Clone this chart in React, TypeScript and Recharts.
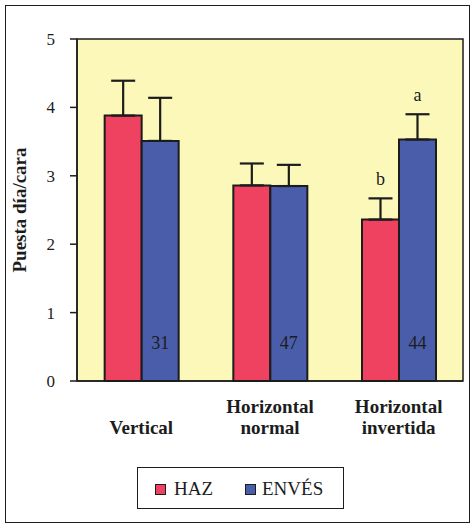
import React from 'react';
import {
  BarChart,
  Bar,
  XAxis,
  YAxis,
  ErrorBar,
  LabelList,
  Legend,
  CartesianGrid,
  ReferenceArea,
} from 'recharts';

const categories = ['Vertical', 'Horizontal normal', 'Horizontal invertida'];
const categoryLines = [['Vertical'], ['Horizontal', 'normal'], ['Horizontal', 'invertida']];
const hazValues = [3.88, 2.86, 2.36];
const envesValues = [3.51, 2.85, 3.53];
const hazErrors = [0.51, 0.32, 0.31];
const envesErrors = [0.63, 0.31, 0.37];
const sampleSizes = ['31', '47', '44'];
const hazLetters = ['', '', 'b'];
const envesLetters = ['', '', 'a'];
const yTicks = [0, 1, 2, 3, 4, 5];
const boundaryTicks = [0, 1, 2, 3];
const seriesNames = ['HAZ', 'ENVÉS'];

const RED = '#EF4260';
const BLUE = '#4A5DAA';
const YELLOW = '#FBF8BA';
const INK = '#1c1c1c';
const FONT = 'serif';

const data = categories.map((c, i) => ({
  cat: c,
  haz: hazValues[i],
  env: envesValues[i],
  hazErr: [0, hazErrors[i]],
  envErr: [0, envesErrors[i]],
  n: sampleSizes[i],
  sigH: hazLetters[i],
  sigE: envesLetters[i],
}));

const CategoryTick = (props: any) => {
  const { x, y, payload } = props;
  const idx = categories.indexOf(payload.value);
  const lines = idx >= 0 ? categoryLines[idx] : [String(payload.value)];
  const last = lines.length - 1;
  return (
    <g>
      {lines.map((ln, k) => (
        <text
          key={k}
          x={x}
          y={y + 52 - (last - k) * 21}
          textAnchor="middle"
          fontFamily={FONT}
          fontWeight="bold"
          fontSize={19}
          fill={INK}
        >
          {ln}
        </text>
      ))}
    </g>
  );
};

const makeLetterLabel = (values: number[], errors: number[]) => (props: any) => {
  const { x, y, width, height, value, index } = props;
  if (!value) return null;
  const v = values[index];
  const pxPerUnit = height / v;
  const errTop = y - errors[index] * pxPerUnit;
  return (
    <text
      x={x + width / 2}
      y={errTop - 13}
      textAnchor="middle"
      fontFamily={FONT}
      fontSize={18}
      fill={INK}
    >
      {value}
    </text>
  );
};

const CountLabel = (props: any) => {
  const { x, y, width, height, value } = props;
  return (
    <text
      x={x + width / 2}
      y={y + height - 32}
      textAnchor="middle"
      fontFamily={FONT}
      fontSize={18}
      fill={INK}
    >
      {value}
    </text>
  );
};

const LegendBox = () => {
  const colors = [RED, BLUE];
  const squareLeft = [17, 107];
  const textLeft = [36, 124];
  return (
    <div
      style={{
        position: 'relative',
        boxSizing: 'border-box',
        width: 207,
        height: 42,
        border: `1.5px solid ${INK}`,
        background: '#fff',
        fontFamily: FONT,
        fontSize: 19,
        color: INK,
      }}
    >
      {seriesNames.map((name, i) => (
        <React.Fragment key={name}>
          <div
            style={{
              position: 'absolute',
              left: squareLeft[i],
              top: 16,
              width: 11,
              height: 11,
              boxSizing: 'border-box',
              background: colors[i],
              border: `1px solid ${INK}`,
            }}
          />
          <div
            style={{
              position: 'absolute',
              left: textLeft[i],
              top: 9,
              lineHeight: '24px',
              whiteSpace: 'nowrap',
            }}
          >
            {name}
          </div>
        </React.Fragment>
      ))}
    </div>
  );
};

export default function App() {
  return (
    <div style={{ position: 'absolute', left: 0, top: 0, width: 473, height: 530, background: '#fff' }}>
      <div
        style={{
          position: 'absolute',
          left: 5,
          top: 5,
          width: 465,
          height: 518,
          boxSizing: 'border-box',
          border: `1.5px solid ${INK}`,
        }}
      />
      <BarChart
        width={473}
        height={530}
        data={data}
        margin={{ top: 39, right: 10, left: 0, bottom: 88 }}
        barGap={0}
        barCategoryGap="21.5%"
        style={{ fontFamily: FONT }}
      >
        <CartesianGrid xAxisId="b" horizontal={false} vertical={false} fill={YELLOW} />
        <ReferenceArea xAxisId="b" y1={0} y2={5} fill="none" stroke={INK} strokeWidth={1.5} />
        <XAxis
          xAxisId="b"
          dataKey="cat"
          height={60}
          axisLine={false}
          tickLine={false}
          tickSize={0}
          tickMargin={0}
          interval={0}
          tick={<CategoryTick />}
        />
        <XAxis
          xAxisId="a"
          type="number"
          domain={[0, 3]}
          ticks={boundaryTicks}
          allowDataOverflow
          height={1}
          tick={false}
          tickSize={6}
          axisLine={{ stroke: INK, strokeWidth: 1.5 }}
          tickLine={{ stroke: INK, strokeWidth: 1.5 }}
        />
        <YAxis
          domain={[0, 5]}
          ticks={yTicks}
          width={77}
          tickSize={7}
          tickMargin={15}
          axisLine={{ stroke: INK, strokeWidth: 1.5 }}
          tickLine={{ stroke: INK, strokeWidth: 1.5 }}
          tick={{ fontFamily: FONT, fontSize: 17, fill: INK }}
          label={{
            value: 'Puesta día/cara',
            angle: -90,
            position: 'center',
            dx: -19,
            style: { fontFamily: FONT, fontSize: 19, fontWeight: 'bold', fill: INK, textAnchor: 'middle' },
          }}
        />
        <Legend
          verticalAlign="middle"
          layout="horizontal"
          content={<LegendBox />}
          wrapperStyle={{ position: 'absolute', left: 137, top: 467, width: 207, height: 42 }}
        />
        <Bar
          xAxisId="b"
          dataKey="haz"
          name="HAZ"
          fill={RED}
          stroke={INK}
          strokeWidth={2}
          isAnimationActive={false}
        >
          <ErrorBar dataKey="hazErr" width={12} strokeWidth={2.2} stroke={INK} direction="y" />
          <LabelList dataKey="sigH" content={makeLetterLabel(hazValues, hazErrors)} />
        </Bar>
        <Bar
          xAxisId="b"
          dataKey="env"
          name="ENVÉS"
          fill={BLUE}
          stroke={INK}
          strokeWidth={2}
          isAnimationActive={false}
        >
          <ErrorBar dataKey="envErr" width={12} strokeWidth={2.2} stroke={INK} direction="y" />
          <LabelList dataKey="n" content={<CountLabel />} />
          <LabelList dataKey="sigE" content={makeLetterLabel(envesValues, envesErrors)} />
        </Bar>
      </BarChart>
    </div>
  );
}
